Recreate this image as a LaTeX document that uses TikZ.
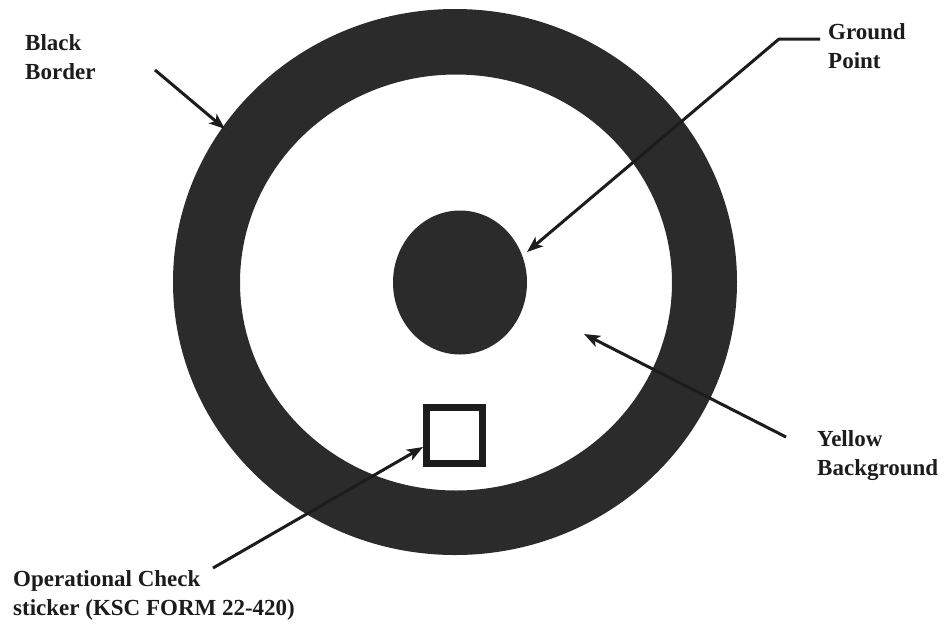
\documentclass[tikz,border=0pt]{standalone}
\usepackage{fontspec}
\setmainfont{Liberation Serif}
\usetikzlibrary{arrows.meta,shapes.geometric,calc}
\definecolor{ringc}{HTML}{2B2B2B}
\definecolor{inkc}{HTML}{1C1C1C}
\begin{document}
\begin{tikzpicture}[x=1pt,y=-1pt,
  lbl/.style={anchor=base west,inner sep=0pt,align=left,text=inkc,
    font=\bfseries\fontsize{23}{29}\selectfont},
  pointer/.style={draw=inkc,line width=3pt,
    -{Stealth[length=16pt,width=12pt,inset=4pt]}},
  leader/.style={draw=inkc,line width=3pt}]
\useasboundingbox (0,0) rectangle (946,625);
\fill[white] (0,0) rectangle (946,625);
% ring (black border)
\fill[ringc,even odd rule] (455,282) ellipse [x radius=282pt,y radius=273pt]
  (456,282.5) ellipse [x radius=216pt,y radius=208pt];
% ground point
\node[ellipse,fill=ringc,inner sep=0pt,minimum width=134pt,minimum height=144pt] (dot) at (460,282.5) {};
% sticker square
\node[draw=inkc,line width=7pt,minimum size=56pt,inner sep=0pt] (sticker) at (454.5,435.5) {};
% labels (anchor = baseline of the last line)
\node[lbl] (black) at (25,79) {Black\\Border};
\node[lbl] (ground) at (828,68) {Ground\\Point};
\node[lbl] (yellow) at (817,475) {Yellow\\Background};
\node[lbl] (opcheck) at (13,615) {Operational Check\\sticker (KSC FORM 22-420)};
% connector ends
\coordinate (bbs) at (155,70);
\coordinate (bbt) at (225,129);
\coordinate (gps) at (820,39);
\coordinate (gpe) at (779,39);
\coordinate (gpt) at (527,252);
\coordinate (ybs) at (786,437);
\coordinate (ybt) at (584,334);
\coordinate (ops) at (213,568);
% connectors
\draw[pointer] (bbs) -- (bbt);
\draw[pointer,line join=round] (gps) -- (gpe) -- (gpt);
\draw[pointer] (ybs) -- (ybt);
\draw[pointer] (ops) -- ([yshift=-11.5pt]sticker.west);
\end{tikzpicture}
\end{document}
